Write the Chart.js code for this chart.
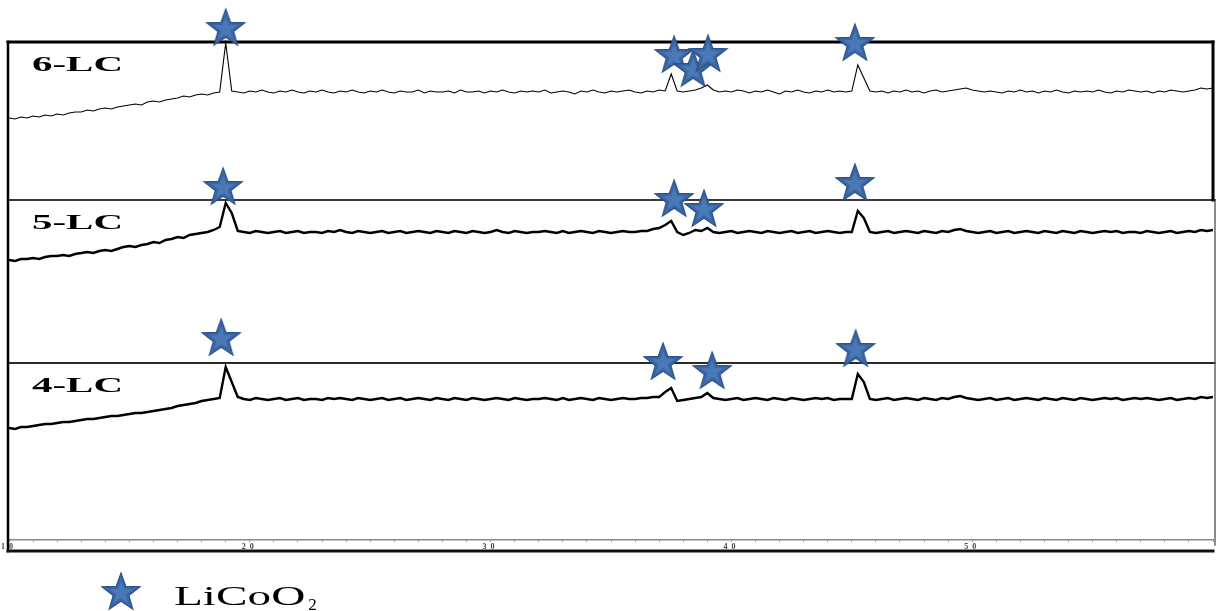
<!DOCTYPE html>
<html>
<head>
<meta charset="utf-8">
<script src="https://cdn.jsdelivr.net/npm/chart.js@4.4.1/dist/chart.umd.min.js"></script>
<style>
  html, body { margin: 0; padding: 0; background: #fff; }
  canvas { display: block; }
</style>
</head>
<body>
<canvas id="xrd" width="1217" height="611"></canvas>
<script>
// 2θ scan grid in degrees (0.25° step, 10–60°)
const twoTheta = Array.from({ length: 201 }, (_, i) => 10 + i * 0.25);

// Intensities (arbitrary units, relative to each panel's floor)
const lc6 = [
  82, 81, 83, 82,   84, 83, 85, 84,   86, 85, 87, 88,   88, 90, 89, 91,
  92, 91, 93, 94,   95, 96, 95, 98,   99, 98, 100, 101, 102, 104, 103, 105,
  106, 105, 107, 108, 157, 109, 108, 107, 109, 108, 110, 108, 107, 109, 108, 110,
  108, 107, 109, 108, 110, 108, 107, 109, 108, 110, 108, 107, 109, 108, 110, 108,
  107, 109, 108, 108, 110, 107, 109, 108, 108, 109, 107, 110, 108, 108, 109, 107,
  109, 108, 110, 108, 107, 109, 108, 109, 108, 110, 107, 108, 109, 108, 106, 109,
  108, 110, 108, 107, 109, 108, 109, 110, 108, 107, 109, 108, 110, 109, 126, 109,
  108, 109, 110, 112, 115, 110, 108, 109, 108, 110, 109, 107, 109, 108, 110, 108,
  106, 109, 108, 110, 108, 107, 109, 108, 110, 108, 109, 108, 109, 135, 122, 109,
  108, 109, 107, 109, 108, 110, 108, 109, 107, 109, 110, 108, 109, 110, 111, 112,
  110, 109, 108, 109, 108, 107, 109, 108, 110, 108, 109, 107, 109, 108, 110, 108,
  107, 109, 108, 109, 108, 110, 108, 107, 109, 108, 110, 109, 108, 109, 107, 109,
  108, 110, 109, 108, 109, 110, 112, 111, 112
];
const lc5 = [
  103, 102, 104, 104, 105, 104, 106, 107, 107, 108, 107, 109, 110, 111, 110, 112,
  113, 112, 114, 116, 117, 116, 118, 119, 121, 120, 123, 124, 126, 125, 128, 129,
  130, 131, 133, 136, 160, 150, 132, 131, 130, 132, 131, 130, 131, 132, 130, 131,
  132, 130, 131, 131, 130, 132, 131, 133, 131, 130, 132, 131, 130, 131, 132, 130,
  131, 132, 130, 131, 132, 131, 130, 132, 131, 130, 132, 131, 130, 132, 131, 130,
  131, 133, 131, 130, 132, 131, 130, 131, 131, 132, 131, 130, 132, 130, 131, 132,
  131, 130, 132, 131, 130, 131, 132, 131, 131, 132, 132, 134, 135, 138, 142, 131,
  128, 130, 133, 132, 135, 131, 130, 131, 132, 130, 131, 132, 131, 130, 132, 131,
  130, 131, 132, 130, 131, 132, 130, 131, 132, 131, 130, 131, 131, 152, 145, 131,
  130, 131, 132, 130, 131, 132, 131, 130, 132, 131, 130, 132, 131, 133, 134, 132,
  131, 130, 131, 132, 130, 131, 132, 130, 131, 132, 131, 130, 132, 131, 130, 132,
  131, 130, 132, 131, 130, 131, 132, 131, 132, 130, 131, 131, 130, 132, 131, 130,
  131, 132, 130, 131, 132, 131, 133, 132, 133
];
const lc4 = [
  112, 111, 113, 113, 114, 115, 116, 116, 117, 118, 118, 119, 120, 121, 121, 122,
  123, 124, 124, 125, 126, 127, 127, 128, 129, 130, 131, 132, 134, 135, 136, 137,
  139, 140, 141, 142, 173, 158, 143, 141, 140, 142, 141, 140, 141, 142, 140, 141,
  142, 140, 141, 141, 140, 142, 141, 142, 141, 140, 142, 141, 140, 141, 142, 140,
  141, 142, 140, 141, 142, 141, 140, 142, 141, 140, 142, 141, 140, 142, 141, 140,
  141, 142, 141, 140, 142, 141, 140, 141, 141, 142, 141, 140, 142, 140, 141, 142,
  141, 140, 142, 141, 140, 141, 142, 141, 141, 142, 142, 143, 143, 148, 152, 139,
  140, 141, 142, 143, 147, 142, 141, 140, 141, 142, 140, 141, 142, 141, 140, 142,
  141, 140, 142, 141, 140, 141, 142, 141, 142, 140, 141, 141, 141, 166, 158, 141,
  140, 141, 142, 140, 141, 142, 141, 140, 142, 141, 140, 142, 141, 143, 144, 142,
  141, 140, 141, 142, 140, 141, 142, 140, 141, 142, 141, 140, 142, 141, 140, 142,
  141, 140, 142, 141, 140, 141, 142, 141, 142, 140, 141, 142, 141, 142, 141, 140,
  141, 142, 140, 141, 142, 141, 143, 142, 143
];

const sampleNames = ['6-LC', '5-LC', '4-LC'];

// LiCoO2 reflection markers per sample: 2θ and marker level (panel units)
const starTheta6 = [19.0, 37.62, 38.41, 39.03, 45.13];
const starLevel6 = [171, 144, 130, 145, 156];
const starTheta5 = [18.89, 37.62, 38.86, 45.13];
const starLevel5 = [175, 163, 153, 179];
const starTheta4 = [18.81, 37.16, 39.2, 45.16];
const starLevel4 = [201, 177, 168, 190];

const tickLabels = ['10', '20', '30', '40', '50'];
const legendLabel = 'LiCoO';
const legendSub = '2';

// Stacking: floor of each panel on the shared vertical scale, and top of the frame
const panelFloor = [340, 177, 0];
const frameTop = 498;

// Filled five-point star used as the marker glyph
function makeStar(R) {
  const size = Math.ceil(2 * R + 4);
  const c = document.createElement('canvas');
  c.width = size; c.height = size;
  const g = c.getContext('2d');
  const cx = size / 2, cy = size / 2;
  const star = (r1, r2) => {
    g.beginPath();
    for (let k = 0; k < 10; k++) {
      const r = k % 2 ? r2 : r1;
      const a = -Math.PI / 2 + k * Math.PI / 5;
      g.lineTo(cx + r * Math.cos(a), cy + r * Math.sin(a));
    }
    g.closePath();
  };
  star(R, R * 0.41);
  g.fillStyle = '#3b67a5'; g.fill();
  g.lineWidth = 1.2; g.strokeStyle = '#2c5189'; g.stroke();
  star(R * 0.6, R * 0.6 * 0.41);
  g.fillStyle = '#4a79b8'; g.fill();
  return c;
}
const starGlyph = makeStar(20);

const series = [lc6, lc5, lc4];
const traceDatasets = series.map((vals, s) => ({
  type: 'line',
  label: sampleNames[s],
  data: twoTheta.map((t, i) => ({ x: t, y: vals[i] + panelFloor[s] })),
  borderColor: '#000',
  borderWidth: s === 0 ? 1.1 : 2.4,
  pointRadius: 0,
  tension: 0,
  fill: false,
  order: 2
}));

const starPts = [];
[[starTheta6, starLevel6], [starTheta5, starLevel5], [starTheta4, starLevel4]].forEach(([th, lv], s) => {
  th.forEach((t, i) => starPts.push({ x: t, y: lv[i] + panelFloor[s] }));
});
const starDataset = {
  type: 'scatter',
  label: 'LiCoO2',
  data: starPts,
  pointStyle: starGlyph,
  pointRadius: 20,
  showLine: false,
  clip: false,
  order: 1
};

// Panel frames drawn from the scale positions
const framePlugin = {
  id: 'frames',
  beforeDraw(chart) {
    chart.ctx.letterSpacing = '4px';
  },
  beforeDatasetsDraw(chart) {
    const { ctx, chartArea: a, scales: { y } } = chart;
    ctx.letterSpacing = '0px';
    const top = y.getPixelForValue(frameTop);
    const mid1 = y.getPixelForValue(panelFloor[0]);
    const mid2 = y.getPixelForValue(panelFloor[1]);
    const bottom = a.bottom + 11;
    const L = a.left - 1, R = a.right, R2 = a.right + 2;
    ctx.save();
    ctx.lineCap = 'square';
    const seg = (x1, y1, x2, y2, w, c) => {
      ctx.beginPath(); ctx.moveTo(x1, y1); ctx.lineTo(x2, y2);
      ctx.lineWidth = w; ctx.strokeStyle = c; ctx.stroke();
    };
    seg(L, mid1, R2, mid1, 2, '#3a3a3a');
    seg(L, mid2, R2, mid2, 2, '#2a2a2a');
    seg(R2, mid1, R2, a.bottom + 5, 1.5, '#666');
    seg(L, top, R, top, 3, '#000');
    seg(R, top, R, mid1, 3, '#000');
    seg(L, top, L, bottom, 2.5, '#000');
    seg(L, bottom, R, bottom, 3, '#111');
    ctx.restore();
  },
  afterDraw(chart) {
    const { ctx, chartArea: a, scales: { y } } = chart;
    ctx.save();
    ctx.fillStyle = '#000';
    ctx.textBaseline = 'alphabetic';
    // sample names, set wide
    const tops = [frameTop, panelFloor[0], panelFloor[1]];
    sampleNames.forEach((name, s) => {
      const by = y.getPixelForValue(tops[s]) + 29;
      ctx.save();
      ctx.translate(a.left + 23, by);
      ctx.scale(1.86, 1);
      ctx.font = 'bold 22px "Liberation Serif", "Times New Roman", serif';
      ctx.fillText(name, 0, 0);
      ctx.restore();
    });
    // legend: marker and compound name
    ctx.drawImage(starGlyph, 121 - starGlyph.width / 2, 593 - starGlyph.height / 2);
    ctx.save();
    ctx.translate(174, 605);
    ctx.scale(1.75, 1);
    ctx.font = '27px "Liberation Serif", "Times New Roman", serif';
    ctx.fillText(legendLabel, 0, 0);
    const w = ctx.measureText(legendLabel).width;
    ctx.restore();
    ctx.font = '17px "Liberation Serif", "Times New Roman", serif';
    ctx.fillText(legendSub, 174 + w * 1.75 + 3, 610);
    ctx.restore();
  }
};

new Chart(document.getElementById('xrd'), {
  data: { datasets: [starDataset, ...traceDatasets] },
  options: {
    responsive: false,
    animation: false,
    devicePixelRatio: 1,
    layout: { autoPadding: false, padding: { left: 9, right: 4, top: 0, bottom: 55 } },
    plugins: { legend: { display: false }, tooltip: { enabled: false } },
    scales: {
      x: {
        type: 'linear',
        min: 10,
        max: 60,
        grid: { display: true, drawOnChartArea: false, drawTicks: true, tickLength: 2, color: '#8a8a8a' },
        border: { display: true, color: '#8a8a8a', width: 1.5 },
        ticks: {
          stepSize: 1,
          autoSkip: false,
          maxRotation: 0,
          padding: 0,
          color: '#444',
          font: { size: 8, family: '"Liberation Serif", serif', weight: 'bold' },
          callback: v => tickLabels.includes(String(v)) ? String(v) : ''
        },
        afterFit: s => { s.height = 16; }
      },
      y: { type: 'linear', min: 0, max: 540, display: false }
    }
  },
  plugins: [framePlugin]
});
</script>
</body>
</html>
